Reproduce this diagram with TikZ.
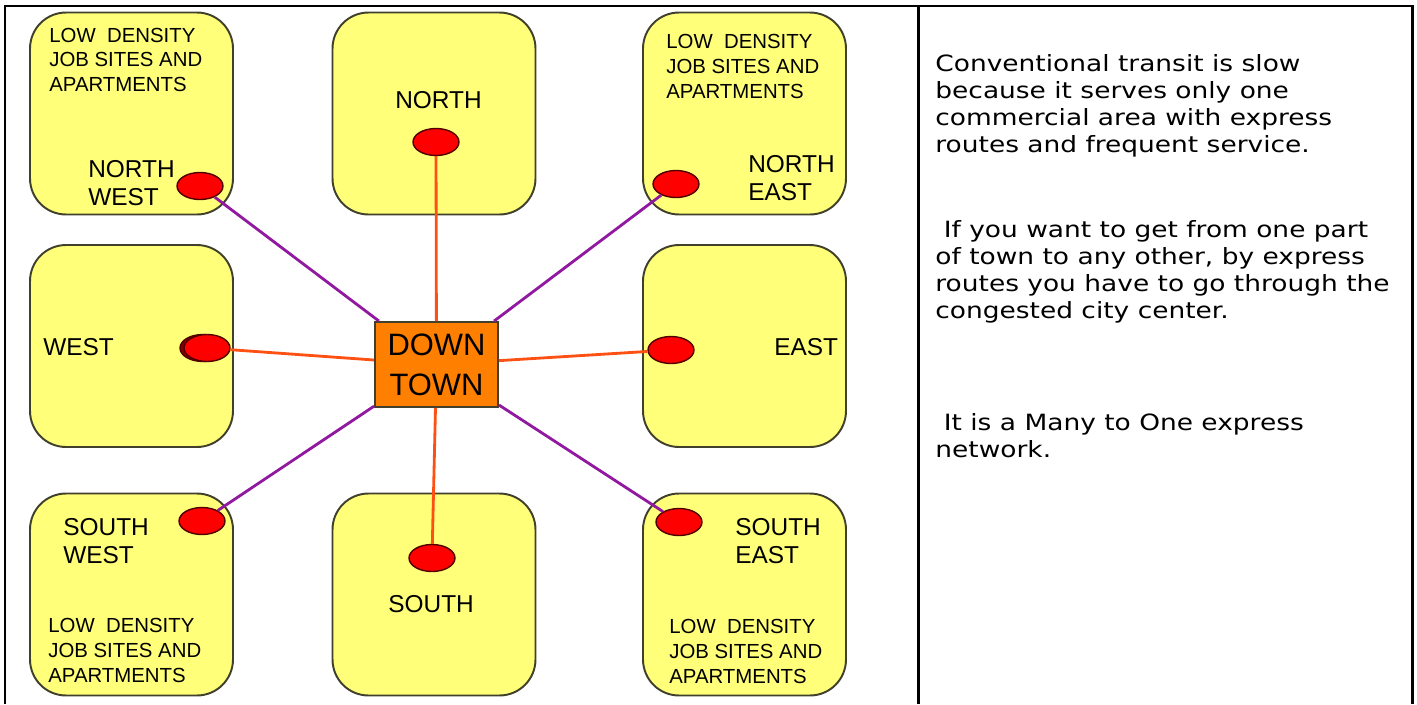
\documentclass[tikz,border=0pt]{standalone}
\usepackage{fontspec}
\setmainfont{Liberation Sans}
\newfontfamily\notefont{DejaVu Sans}
\usetikzlibrary{shapes.geometric}
\definecolor{zonefill}{RGB}{255,255,122}
\definecolor{zoneline}{RGB}{64,64,44}
\definecolor{hubfill}{RGB}{255,128,0}
\definecolor{stationfill}{RGB}{255,0,0}
\definecolor{stationline}{RGB}{80,0,0}
\definecolor{spokeline}{RGB}{255,80,20}
\definecolor{crossline}{RGB}{145,25,160}

\begin{document}
\begin{tikzpicture}[x=.02cm,y=-.02cm,
  zone/.style={draw=zoneline,fill=zonefill,line width=1.1pt,rounded corners=.72cm,minimum width=4.06cm,minimum height=4.04cm,inner sep=0},
  station/.style={ellipse,draw=stationline,fill=stationfill,line width=.8pt,minimum width=.92cm,minimum height=.54cm,inner sep=0},
  hub/.style={draw=zoneline,fill=hubfill,line width=1.1pt,minimum width=2.46cm,minimum height=1.7cm,align=center,inner sep=0,font=\fontsize{17.6}{22.7}\selectfont},
  zonename/.style={anchor=base west,align=left,inner sep=0,font=\fontsize{13.9}{15.9}\selectfont},
  zonenote/.style={anchor=base west,align=left,inner sep=0,font=\fontsize{11.6}{14.1}\selectfont},
  textnote/.style={anchor=base west,align=left,inner sep=0,xscale=1.18,font=\notefont\fontsize{12.75}{15.3}\selectfont},
  spoke/.style={draw=spokeline,line width=1.6pt},
  link/.style={draw=crossline,line width=1.6pt},
  frame/.style={draw=black,line width=1.7pt}]
\useasboundingbox (0,0) rectangle (1417,704);
\draw[frame] (5,704) -- (5,6) -- (1412,6) -- (1412,704);
\draw[frame] (918,6) -- (918,704);
\node[zone] (nwzone) at (131.5,113.5) {};
\node[zone] (nzone) at (434,113.5) {};
\node[zone] (nezone) at (744.5,113.5) {};
\node[zone] (wzone) at (131.5,346) {};
\node[zone] (ezone) at (744.5,346) {};
\node[zone] (swzone) at (131.5,594.5) {};
\node[zone] (szone) at (434,594.5) {};
\node[zone] (sezone) at (744.5,594.5) {};
\node[zonenote] (nwnote) at (49,91.7) {LOW\ \ DENSITY\\JOB SITES AND\\APARTMENTS};
\node[zonename] (nwname) at (88,205) {NORTH\\WEST};
\node[zonename] (nname) at (395,108.3) {NORTH};
\node[zonenote] (nenote) at (666,98.3) {LOW\ \ DENSITY\\JOB SITES AND\\APARTMENTS};
\node[zonename] (nename) at (748,200) {NORTH\\EAST};
\node[zonename] (wname) at (43,355) {WEST};
\node[zonename] (ename) at (774,355) {EAST};
\node[zonename] (swname) at (63,563) {SOUTH\\WEST};
\node[zonenote] (swnote) at (48,682) {LOW\ \ DENSITY\\JOB SITES AND\\APARTMENTS};
\node[zonename] (sname) at (388,612) {SOUTH};
\node[zonename] (sename) at (735,563) {SOUTH\\EAST};
\node[zonenote] (senote) at (669,683) {LOW\ \ DENSITY\\JOB SITES AND\\APARTMENTS};
\node[hub] (hub) at (436.5,364.5) {DOWN\\TOWN};
\node[station] (nwstation) at (200,186) {};
\node[station] (nstation) at (436,142) {};
\node[station] (nestation) at (676,184) {};
\node[station,fill=stationline!70!stationfill] (wshadow) at (203,348) {};
\node[station] (wstation) at (207,348) {};
\node[station] (estation) at (671,350) {};
\node[station] (swstation) at (202,521) {};
\node[station] (sstation) at (432,558) {};
\node[station] (sestation) at (679,522) {};
\draw[spoke] (nstation) -- (hub);
\draw[spoke] (sstation) -- (hub);
\draw[spoke] (wstation) -- (hub);
\draw[spoke] (estation) -- (hub);
\draw[link] (nwstation) -- (hub);
\draw[link] (nestation) -- (hub);
\draw[link] (swstation) -- (hub);
\draw[link] (sestation) -- (hub);
\node[textnote] (whyslow) at (935,152.5) {Conventional transit is slow\\because it serves only one\\commercial area with express\\routes and frequent service.};
\node[textnote] (throughcenter) at (935,318) {\ If you want to get from one part\\of town to any other, by express\\routes you have to go through the\\congested city center.};
\node[textnote] (manytoone) at (935,457) {\ It is a Many to One express\\network.};
\end{tikzpicture}
\end{document}
